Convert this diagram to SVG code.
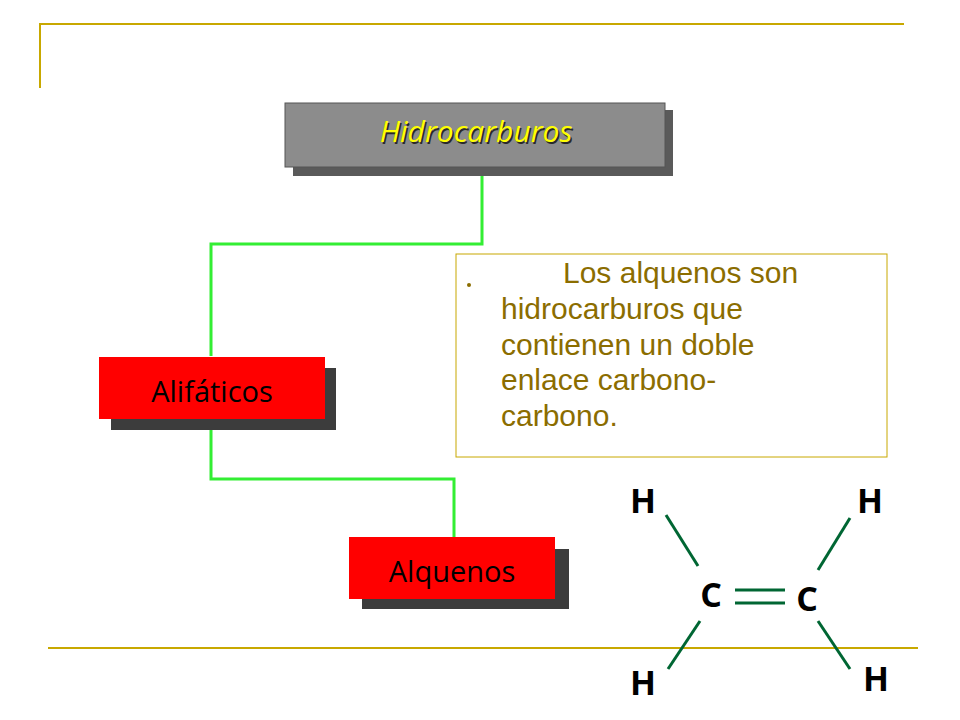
<svg xmlns="http://www.w3.org/2000/svg" width="960" height="720" viewBox="0 0 960 720">
<defs>
<style>
.frame{stroke:#c8a800;stroke-width:2;fill:none}
.conn{stroke:#33ee33;stroke-width:3;fill:none}
.shadow{fill:#3c3c3c}
.red{fill:#ff0000}
.lbl{font-family:"Open Sans","Liberation Sans",sans-serif;font-size:29px;text-anchor:middle;fill:#000}
.bond{stroke:#006633;stroke-width:3}
.atom{font-family:"Open Sans","Liberation Sans",sans-serif;font-size:34px;font-weight:bold;fill:#000;text-anchor:middle}
.body{font-family:"Liberation Sans",Arial,sans-serif;font-size:30px;fill:#8b6d00}
</style>
</defs>
<rect width="960" height="720" fill="#fff"/>
<path class="frame" d="M40 88V24H904"/>
<line class="frame" x1="48" y1="648" x2="918" y2="648"/>
<g id="connectors">
<path class="conn" d="M482 172V244H211V356"/>
<path class="conn" d="M211 420V479H454V538"/>
</g>
<g id="hidrocarburos">
<rect x="293" y="110" width="380" height="66" fill="#5a5a5a"/>
<rect x="285" y="103" width="380" height="64" fill="#8c8c8c" stroke="#555" stroke-width="1"/>
<text x="476" y="142" font-family="'Open Sans','Liberation Sans',sans-serif" font-size="30" font-style="italic" fill="#000" text-anchor="middle" opacity="0.7" dx="1.5" dy="1.5">Hidrocarburos</text>
<text x="476" y="142" font-family="'Open Sans','Liberation Sans',sans-serif" font-size="30" font-style="italic" fill="#ffff00" text-anchor="middle">Hidrocarburos</text>
</g>
<g id="alifaticos">
<rect class="shadow" x="111" y="368" width="225" height="62"/>
<rect class="red" x="99" y="357" width="226" height="62"/>
<text class="lbl" x="212" y="402">Alifáticos</text>
</g>
<g id="alquenos">
<rect class="shadow" x="362" y="549" width="207" height="60"/>
<rect class="red" x="349" y="537" width="206" height="62"/>
<text class="lbl" x="452" y="582">Alquenos</text>
</g>
<g id="textbox">
<rect x="456" y="254" width="431" height="203" fill="none" stroke="#c8a800" stroke-width="1"/>
<circle cx="469" cy="285" r="2" fill="#8b6d00"/>
<text class="body"><tspan x="563" y="283">Los alquenos son</tspan><tspan x="501" y="319">hidrocarburos que</tspan><tspan x="501" y="355">contienen un doble</tspan><tspan x="501" y="390">enlace carbono-</tspan><tspan x="501" y="426">carbono.</tspan></text>
</g>
<g id="molecule">
<line class="bond" x1="666" y1="515" x2="698" y2="566"/>
<line class="bond" x1="850" y1="518" x2="818" y2="570"/>
<line class="bond" x1="700" y1="621" x2="668" y2="669"/>
<line class="bond" x1="818" y1="621" x2="850" y2="669"/>
<line class="bond" x1="735" y1="590" x2="785" y2="590"/>
<line class="bond" x1="735" y1="603" x2="785" y2="603"/>
<text class="atom" x="643" y="513">H</text>
<text class="atom" x="870" y="513">H</text>
<text class="atom" x="711" y="607">C</text>
<text class="atom" x="807" y="611">C</text>
<text class="atom" x="643" y="695">H</text>
<text class="atom" x="876" y="691">H</text>
</g>
</svg>
